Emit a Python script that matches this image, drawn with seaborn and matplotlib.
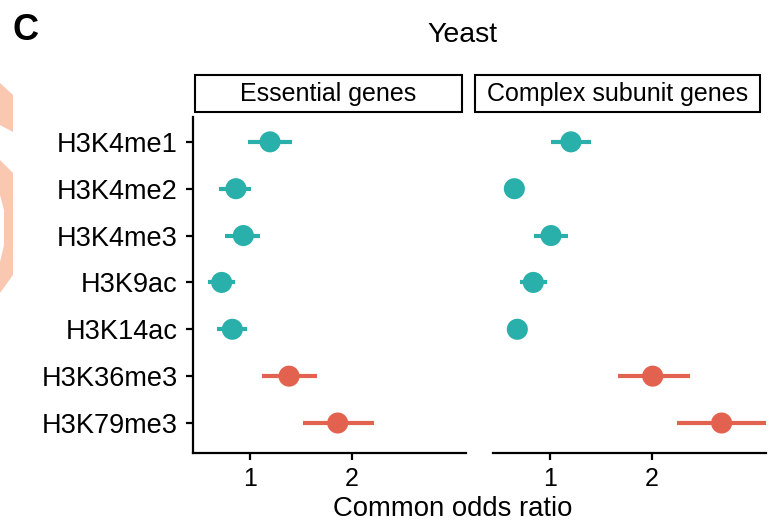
import matplotlib
matplotlib.use("Agg")
import matplotlib.pyplot as plt
import seaborn as sns
import pandas as pd
import numpy as np
from matplotlib.patches import Rectangle, Polygon

sns.set_theme(style="white")
plt.rcParams['font.family'] = ['Liberation Sans', 'DejaVu Sans']

# ---- data ----
marks = ["H3K4me1", "H3K4me2", "H3K4me3", "H3K9ac", "H3K14ac", "H3K36me3", "H3K79me3"]
groups = ["other", "other", "other", "other", "other", "elong", "elong"]
panels = ["Essential genes", "Complex subunit genes"]

ess_or = [1.146, 0.909, 0.956, 0.825, 0.887, 1.304, 1.815]
ess_lo = [0.988, 0.812, 0.844, 0.753, 0.797, 1.083, 1.437]
ess_hi = [1.333, 1.005, 1.070, 0.903, 0.982, 1.580, 2.328]

cpx_or = [1.153, 0.785, 1.007, 0.893, 0.801, 2.010, 3.210]
cpx_lo = [1.007, 0.765, 0.897, 0.816, 0.780, 1.591, 2.365]
cpx_hi = [1.321, 0.805, 1.128, 0.982, 0.822, 2.590, 4.700]

xticks = [1, 2]
xlim = (0.679, 4.34)

palette = {"other": "#2AB0AA", "elong": "#E3624F"}

frames = []
for p, o, lo, hi in [(panels[0], ess_or, ess_lo, ess_hi), (panels[1], cpx_or, cpx_lo, cpx_hi)]:
    frames.append(pd.DataFrame({"panel": p, "mark": marks, "group": groups,
                                "OR": o, "lo": lo, "hi": hi}))
df = pd.concat(frames, ignore_index=True)

W, H = 769, 523
fig = plt.figure(figsize=(W / 100, H / 100), dpi=100)


def rect(x0, x1, y0, y1):
    return [x0 / W, 1 - y1 / H, (x1 - x0) / W, (y1 - y0) / H]


axL = fig.add_axes(rect(193, 466, 117, 453))
axR = fig.add_axes(rect(493, 766, 117, 453))

for ax, p in [(axL, panels[0]), (axR, panels[1])]:
    d = df[df["panel"] == p]
    ax.set_xscale("log")
    for g, col in palette.items():
        dg = d[d["group"] == g]
        ax.hlines(y=dg["mark"], xmin=dg["lo"], xmax=dg["hi"], color=col, lw=3.0, zorder=2)
    sns.scatterplot(data=d, x="OR", y="mark", hue="group", palette=palette, s=230,
                    edgecolor="none", legend=False, ax=ax, zorder=3)
    ax.set_xlim(*xlim)
    ax.set_ylim(len(marks) - 0.36, -0.53)
    ax.set_xticks(xticks)
    ax.set_xticklabels([str(t) for t in xticks])
    ax.xaxis.set_minor_locator(matplotlib.ticker.NullLocator())
    ax.set_xlabel("")
    ax.set_ylabel("")
    ax.set_facecolor("white")
    for s in ["top", "right"]:
        ax.spines[s].set_visible(False)
    for s in ["left", "bottom"]:
        ax.spines[s].set_color("black")
        ax.spines[s].set_linewidth(1.6)
    ax.tick_params(axis="both", which="major", length=5, width=1.6, color="black",
                   labelsize=18, labelcolor="black", pad=5, bottom=True, left=True)

axR.spines["left"].set_visible(False)
axR.tick_params(axis="y", left=False, labelleft=False)
axL.tick_params(axis="y", labelsize=19.5, pad=6)

# strip boxes
for (x0, x1), p in [((195, 462), panels[0]), ((475, 760), panels[1])]:
    fig.patches.append(Rectangle((x0 / W, 1 - 112 / H), (x1 - x0) / W, 37 / H,
                                 transform=fig.transFigure, facecolor="white",
                                 edgecolor="black", lw=1.5))
    fig.text((x0 + x1) / 2 / W, 1 - 94 / H, p, ha="center", va="center", fontsize=18,
             color="black")

fig.text(462 / W, 1 - 35 / H, "Yeast", ha="center", va="center", fontsize=20.5, color="black")
fig.text(453 / W, 1 - 509 / H, "Common odds ratio", ha="center", va="center", fontsize=19.8,
         color="black")
fig.text(12 / W, 1 - 31 / H, "C", ha="left", va="center", fontsize=26, fontweight="bold",
         color="black")

# decorative fragment from neighbouring panel (left edge)
peach = "#FAC8B0"
for pts in [[(0, 83), (13, 95), (13, 132), (0, 125)],
            [(0, 160), (13, 173), (13, 275), (0, 293), (0, 262), (4, 245), (4, 210), (0, 195)]]:
    fig.patches.append(Polygon([(x / W, 1 - y / H) for x, y in pts], closed=True,
                               transform=fig.transFigure, facecolor=peach, edgecolor="none"))

fig.savefig("out.png", dpi=100, facecolor="white")
